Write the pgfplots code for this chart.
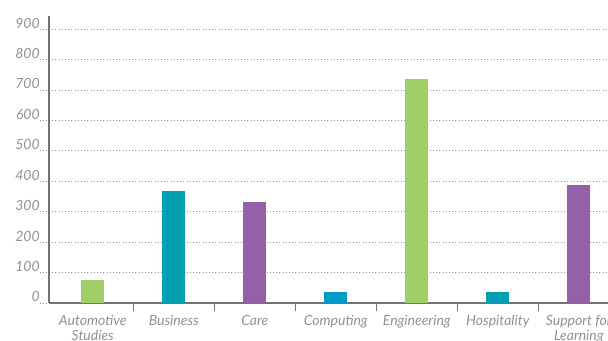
\documentclass[border=0pt]{standalone}
\usepackage{pgfplots}
\pgfplotsset{compat=1.18}
\usepackage{fontspec}
\setmainfont{Lato}
\definecolor{cgreen}{RGB}{160,206,103}
\definecolor{cteal}{RGB}{0,160,176}
\definecolor{cpurple}{RGB}{148,96,168}
\definecolor{cblue}{RGB}{0,153,204}
\definecolor{axgray}{RGB}{115,115,115}
\definecolor{txtgray}{RGB}{145,145,145}
\begin{document}
\begin{tikzpicture}
\useasboundingbox (0,0) rectangle (456pt,255pt);
\begin{scope}
\clip (0,0) rectangle (456pt,255pt);
\begin{axis}[
  at={(36.75pt,27.75pt)}, anchor=south west,
  scale only axis, width=419.25pt, height=215.25pt,
  xmin=-0.54, xmax=6.36, ymin=0, ymax=943,
  axis x line*=bottom, axis y line*=left,
  axis line style={axgray, line width=1.1pt},
  ymajorgrids, grid style={axgray!80, dotted, line width=0.5pt},
  ytick={0,100,...,900},
  ytick style={axgray!80, dotted, line width=0.5pt},
  tick align=outside,
  major tick length=6.75pt,
  yticklabel style={anchor=south east, inner sep=0.5pt, xshift=0.5pt, font=\itshape\fontsize{10.5}{11}\selectfont, text=txtgray},
  xtick={0,...,6},
  xticklabels={Automotive\\Studies, Business, Care, Computing, Engineering, Hospitality, Support for\\Learning},
  x tick style={draw=none},
  minor xtick={0.5,1.5,2.5,3.5,4.5,5.5},
  minor x tick style={draw=axgray, line width=1.1pt},
  minor tick length=6pt,
  xticklabel style={align=center, yshift=1pt, font=\itshape\fontsize{10.5}{11.5}\selectfont, text=txtgray},
  ybar, bar width=17.25pt, bar shift=0pt,
  every axis plot/.append style={draw=none},
  clip=false,
  /pgf/number format/assume math mode=true,
]
\addplot[fill=cgreen] coordinates {(0,76)};
\addplot[fill=cteal] coordinates {(1,368)};
\addplot[fill=cpurple] coordinates {(2,332)};
\addplot[fill=cblue] coordinates {(3,36)};
\addplot[fill=cgreen] coordinates {(4,736)};
\addplot[fill=cteal] coordinates {(5,36)};
\addplot[fill=cpurple] coordinates {(6,388)};
\end{axis}
\end{scope}
\end{tikzpicture}
\end{document}
